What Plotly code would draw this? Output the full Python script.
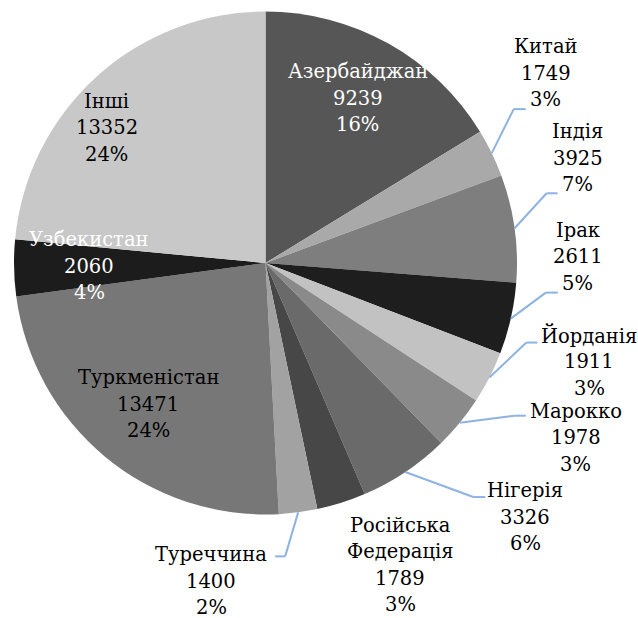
import math
import plotly.graph_objects as go

# ---- data ----
countries = ["Азербайджан", "Китай", "Індія", "Ірак", "Йорданія", "Марокко",
             "Нігерія", "Російська Федерація", "Туреччина", "Туркменістан",
             "Узбекистан", "Інші"]
values = [9239, 1749, 3925, 2611, 1911, 1978, 3326, 1789, 1400, 13471, 2060, 13352]
label_lines = [["Азербайджан"], ["Китай"], ["Індія"], ["Ірак"], ["Йорданія"], ["Марокко"],
               ["Нігерія"], ["Російська", "Федерація"], ["Туреччина"], ["Туркменістан"],
               ["Узбекистан"], ["Інші"]]

# ---- style ----
colors = ["#565656", "#a9a9a9", "#7e7e7e", "#1e1e1e", "#c2c2c2", "#8a8a8a",
          "#6a6a6a", "#474747", "#a2a2a2", "#777777", "#1c1c1c", "#c8c8c8"]
text_colors = ["white", "black", "black", "black", "black", "black",
               "black", "black", "black", "black", "white", "black"]
W, H = 638, 618
CX, CY, R = 265.5, 263.0, 251.5
FONT = "DejaVu Serif"
FS = 19.5
LINE_H = 26.5
LEADER = "#8db3e2"

# inside: (k radial factor, dx, dy)
# outside: (elbow dx, elbow dy from edge, horizontal len (signed), text dx, dy from line end)
placement = {
    0: ("in", 0.75, 0, 0),
    1: ("out", 22, -44, 12, 20, -36),
    2: ("out", 32, -35, 11, 20, -35),
    3: ("out", 35, -26, 12, 20, -36),
    4: ("out", 37, -35, 11, 52, 19),
    5: ("out", 55, -7, 11, 50, 22),
    6: ("out", 68, 25, 12, 40, 20),
    7: ("none", 59, 62),
    8: ("out", -13, 44, -10, -64, 25),
    9: ("in", 0.73, 0, 0),
    10: ("in", 0.70, 0, 0),
    11: ("in", 0.83, -18, 19),
}

total = sum(values)

fig = go.Figure(go.Pie(
    labels=countries, values=values, sort=False, direction="clockwise",
    rotation=0, marker=dict(colors=colors, line=dict(width=0)),
    textinfo="none", hoverinfo="label+value+percent", showlegend=False,
    domain=dict(x=[(CX - R) / W, (CX + R) / W], y=[1 - (CY + R) / H, 1 - (CY - R) / H]),
))

def px2paper(x, y):
    return x / W, 1 - y / H

annotations = []
shapes = []
cum = 0
for i, v in enumerate(values):
    mid = (cum + v / 2) / total * 2 * math.pi
    cum += v
    sx, sy = math.sin(mid), -math.cos(mid)
    ex, ey = CX + R * sx, CY + R * sy
    p = placement[i]
    if p[0] == "in":
        tx, ty = CX + R * p[1] * sx + p[2], CY + R * p[1] * sy + p[3]
    elif p[0] == "none":
        tx, ty = ex + p[1], ey + p[2]
    else:
        bx, by = ex + p[1], ey + p[2]
        lx, ly = bx + p[3], by
        for (x0, y0, x1, y1) in [(ex, ey, bx, by), (bx, by, lx, ly)]:
            a0 = px2paper(x0, y0); a1 = px2paper(x1, y1)
            shapes.append(dict(type="line", xref="paper", yref="paper",
                               x0=a0[0], y0=a0[1], x1=a1[0], y1=a1[1],
                               line=dict(color=LEADER, width=2)))
        tx, ty = lx + p[4], ly + p[5]
    pct = round(v / total * 100)
    lines = label_lines[i] + [str(v), f"{pct}%"]
    n = len(lines)
    for j, t in enumerate(lines):
        yy = ty + (j - (n - 1) / 2) * LINE_H
        ax, ay = px2paper(tx, yy)
        annotations.append(dict(x=ax, y=ay, xref="paper", yref="paper", text=t,
                                showarrow=False, xanchor="center", yanchor="middle",
                                font=dict(family=FONT, size=FS, color=text_colors[i])))

fig.update_layout(width=W, height=H, margin=dict(l=0, r=0, t=0, b=0),
                  paper_bgcolor="white", plot_bgcolor="white",
                  font=dict(family=FONT),
                  annotations=annotations, shapes=shapes)
fig.write_html("out.html", config={"displayModeBar": False},
               post_script="document.body.style.margin='0';document.body.style.overflow='hidden';")
